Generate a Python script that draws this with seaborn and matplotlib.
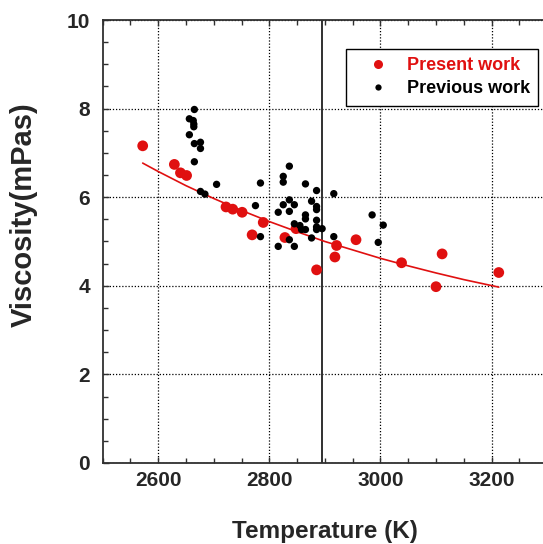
import matplotlib
matplotlib.use("Agg")
import matplotlib.pyplot as plt
import seaborn as sns
import pandas as pd
from matplotlib.lines import Line2D
from matplotlib.ticker import MultipleLocator

# ---- data ----
present_T = [2572, 2629, 2640, 2651, 2722, 2734, 2751, 2769, 2789, 2828, 2848,
             2885, 2918, 2921, 2956, 3038, 3100, 3111, 3213]
present_eta = [7.16, 6.74, 6.55, 6.49, 5.78, 5.73, 5.66, 5.15, 5.43, 5.09, 5.29,
               4.36, 4.65, 4.91, 5.04, 4.52, 3.98, 4.72, 4.30]

previous_T = [2665, 2656, 2663, 2664, 2664, 2656, 2665, 2676, 2676, 2665, 2705,
              2676, 2684, 2784, 2775, 2816, 2784, 2836, 2825, 2825, 2865, 2885,
              2916, 2836, 2825, 2845, 2876, 2885, 2885, 2836, 2865, 2865, 2885,
              2845, 2855, 2865, 2885, 2885, 2895, 2858, 2836, 2876, 2916, 2816,
              2845, 2985, 3005, 2996]
previous_eta = [7.98, 7.77, 7.73, 7.65, 7.59, 7.41, 7.21, 7.24, 7.10, 6.80, 6.29,
                6.13, 6.07, 6.32, 5.81, 5.66, 5.11, 6.70, 6.47, 6.34, 6.30, 6.15,
                6.08, 5.94, 5.83, 5.83, 5.91, 5.79, 5.72, 5.68, 5.60, 5.51, 5.48,
                5.40, 5.36, 5.27, 5.33, 5.27, 5.29, 5.27, 5.04, 5.08, 5.11, 4.89,
                4.89, 5.60, 5.37, 4.98]

fit_T = [2572, 2600, 2650, 2700, 2750, 2800, 2850, 2900, 2950, 3000, 3050,
         3100, 3150, 3213]
fit_eta = [6.77, 6.58, 6.26, 5.97, 5.70, 5.45, 5.22, 5.00, 4.81, 4.62, 4.45,
           4.29, 4.14, 3.97]

marker_T = 2895
x_ticks = [2600, 2800, 3000, 3200]
y_ticks = [0, 2, 4, 6, 8, 10]

# ---- style ----
sns.set_style("ticks")
plt.rcParams['font.family'] = ['Liberation Sans', 'DejaVu Sans']
plt.rcParams['font.weight'] = 'bold'

RED = '#e01010'

fig = plt.figure(figsize=(5.43, 5.44), dpi=100)
ax = fig.add_axes([102.7 / 543, 81 / 544, 444.4 / 543, 443 / 544])

df_p = pd.DataFrame({'T': present_T, 'eta': present_eta})
df_q = pd.DataFrame({'T': previous_T, 'eta': previous_eta})
df_f = pd.DataFrame({'T': fit_T, 'eta': fit_eta})

ax.axvline(marker_T, color='#303030', lw=1.4, zorder=2)
sns.scatterplot(data=df_p, x='T', y='eta', ax=ax, color=RED, s=60,
                edgecolor='none', zorder=3)
sns.lineplot(data=df_f, x='T', y='eta', ax=ax, color=RED, lw=1.2, zorder=4)
sns.scatterplot(data=df_q, x='T', y='eta', ax=ax, color='black', s=28,
                edgecolor='none', zorder=5)

ax.set_xlim(2500, 3300)
ax.set_ylim(0, 10)
ax.set_xticks(x_ticks)
ax.set_yticks(y_ticks)
ax.xaxis.set_minor_locator(MultipleLocator(50))
ax.yaxis.set_minor_locator(MultipleLocator(0.5))
ax.grid(True, which='major', color='black', linestyle=(0, (1, 1.5)), lw=0.9)

ax.tick_params(which='both', direction='in', top=True, right=False,
               color='#303030')
ax.tick_params(which='major', length=4, width=1, labelsize=15)
ax.tick_params(which='minor', length=3.5, width=1)
ax.tick_params(axis='x', pad=6)
ax.tick_params(axis='y', pad=9)
for lab in ax.get_xticklabels() + ax.get_yticklabels():
    lab.set_fontweight('bold')

for sp in ['left', 'bottom', 'top']:
    ax.spines[sp].set_color('#303030')
    ax.spines[sp].set_linewidth(1.3)
ax.spines['right'].set_visible(False)

ax.set_xlabel('Temperature (K)', fontsize=17.5, fontweight='bold')
ax.set_ylabel('Viscosity(mPas)', fontsize=21, fontweight='bold')
ax.xaxis.set_label_coords(0.5, -0.128)
ax.yaxis.set_label_coords(-0.146, 0.56)

handles = [
    Line2D([], [], marker='o', linestyle='none', color=RED, markersize=6.5,
           markeredgewidth=0),
    Line2D([], [], marker='o', linestyle='none', color='black', markersize=4.5,
           markeredgewidth=0),
]
leg = ax.legend(handles, ['Present work', 'Previous work'],
                loc='upper right', bbox_to_anchor=(0.979, 0.9345),
                frameon=True, fancybox=False, framealpha=1,
                edgecolor='black', fontsize=13, handletextpad=0.3,
                borderpad=0.45, labelspacing=0.35, handlelength=2.6,
                borderaxespad=0)
leg.get_frame().set_linewidth(1.0)
texts = leg.get_texts()
texts[0].set_color(RED)
texts[0].set_fontweight('bold')
texts[1].set_color('black')
texts[1].set_fontweight('bold')

fig.savefig('out.png', dpi=100)
